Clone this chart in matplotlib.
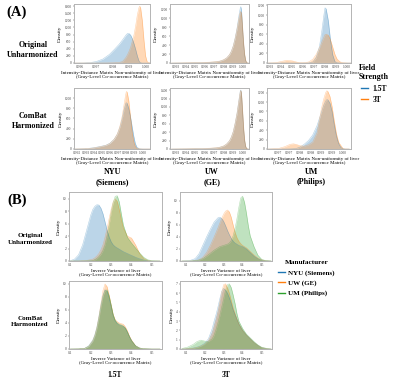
import matplotlib
matplotlib.use("Agg")
import matplotlib.pyplot as plt
from matplotlib.lines import Line2D

plt.rcParams['font.family'] = ['Liberation Serif', 'DejaVu Serif']

BLUE, ORANGE, GREEN = "tab:blue", "tab:orange", "tab:green"

# ---- panel A : Intensity-Distance Matrix Non-uniformity, 1.5T vs 3T ----
# NYU (Siemens), original
a_nyu_orig_x = [0.9956, 0.9962, 0.9966, 0.9970, 0.9974, 0.9978, 0.9981, 0.9984, 0.9986, 0.9988,
                0.9989, 0.9990, 0.9991, 0.9992, 0.9993, 0.9994, 0.9995, 0.9996, 0.99965, 0.9997,
                0.9998, 0.9999, 1.0000, 1.0001, 1.0003]
a_nyu_orig_15 = [0, 2, 10, 40, 110, 240, 380, 530, 650, 780, 830, 830, 780, 680, 540, 380, 200, 60, 25, 8,
                 0, 0, 0, 0, 0]
a_nyu_orig_3 = [0, 0, 0, 0, 0, 2, 5, 15, 40, 150, 230, 330, 450, 620, 800, 1050, 1350, 1560, 1600, 1550,
                1200, 650, 200, 30, 0]

# UW (GE), original
a_uw_orig_x = [0.9925, 0.9940, 0.9955, 0.9965, 0.9972, 0.9976, 0.9980, 0.9983, 0.9986, 0.9988, 0.9990,
               0.9992, 0.9994, 0.9995, 0.9996, 0.9997, 0.99975, 0.9998, 0.99985, 0.9999, 1.0000,
               1.0001, 1.0002, 1.0003, 1.0004, 1.0006]
a_uw_orig_15 = [0, 3, 8, 15, 25, 40, 70, 110, 180, 260, 380, 560, 780, 920, 1060, 1180, 1240, 1260, 1200,
                1080, 720, 400, 180, 60, 10, 0]
a_uw_orig_3 = [0, 4, 10, 18, 30, 45, 75, 115, 185, 265, 380, 550, 760, 880, 1000, 1100, 1140, 1150, 1120,
               1030, 720, 420, 200, 70, 15, 0]

# UM (Philips), original
a_um_orig_x = [0.9927, 0.9935, 0.9940, 0.9945, 0.9950, 0.9955, 0.9960, 0.9965, 0.9969, 0.9972, 0.9975,
               0.9977, 0.9979, 0.9980, 0.9981, 0.9983, 0.9985, 0.9987, 0.9989, 0.9991, 0.9994, 0.9997,
               1.0001, 1.0004]
a_um_orig_15 = [0, 0, 0, 0, 0, 0, 0, 2, 20, 110, 350, 650, 1000, 1150, 1130, 880, 470, 170, 30, 5, 0, 0, 0, 0]
a_um_orig_3 = [0, 5, 30, 55, 45, 15, 5, 20, 80, 180, 320, 430, 540, 590, 600, 580, 480, 330, 180, 80, 20, 5,
               0, 0]

# NYU (Siemens), ComBat
a_nyu_cb_x = [0.9916, 0.9930, 0.9940, 0.9948, 0.9955, 0.9960, 0.9965, 0.9969, 0.9972, 0.9975, 0.9977,
              0.9979, 0.9980, 0.9981, 0.9983, 0.9985, 0.9987, 0.9989, 0.9991, 0.9993, 0.9996, 1.0000,
              1.0009]
a_nyu_cb_15 = [0, 5, 25, 50, 75, 115, 190, 290, 420, 600, 760, 880, 910, 900, 800, 640, 450, 260, 110, 35, 5,
               0, 0]
a_nyu_cb_3 = [0, 5, 20, 45, 70, 110, 190, 300, 440, 650, 850, 1050, 1130, 1120, 950, 650, 350, 150, 50, 15,
              2, 0, 0]

# UW (GE), ComBat
a_uw_cb_x = a_uw_orig_x
a_uw_cb_15 = [0, 3, 8, 15, 25, 40, 70, 115, 190, 280, 410, 610, 850, 1010, 1170, 1320, 1390, 1400, 1340,
              1200, 820, 450, 200, 65, 12, 0]
a_uw_cb_3 = [0, 4, 10, 18, 30, 45, 75, 120, 195, 285, 415, 615, 850, 1000, 1150, 1300, 1370, 1390, 1340,
             1210, 840, 470, 210, 70, 14, 0]

# UM (Philips), ComBat
a_um_cb_x = [0.9965, 0.9970, 0.9973, 0.99755, 0.9977, 0.99785, 0.9980, 0.9982, 0.9984, 0.9986, 0.9988,
             0.9990, 0.9991, 0.9992, 0.99925, 0.9993, 0.9994, 0.9995, 0.9996, 0.9997, 0.9998, 0.9999,
             1.0000, 1.0001, 1.0003]
a_um_cb_15 = [0, 0, 0, 2, 5, 15, 40, 100, 180, 300, 500, 780, 920, 1020, 1050, 1050, 980, 800, 520, 280,
              120, 40, 8, 0, 0]
a_um_cb_3 = [0, 10, 50, 100, 110, 95, 70, 60, 90, 150, 350, 850, 1050, 1200, 1240, 1230, 1120, 900, 600,
             330, 150, 80, 15, 3, 0]

# ---- panel B : Inverse Variance, by manufacturer ----
b_15_orig_x = [0.10, 0.12, 0.14, 0.16, 0.18, 0.20, 0.21, 0.22, 0.23, 0.24, 0.25, 0.26, 0.27, 0.28, 0.29,
               0.30, 0.31, 0.32, 0.33, 0.34, 0.35, 0.36, 0.38, 0.40, 0.42, 0.44, 0.46, 0.48, 0.50, 0.54]
b_15_orig_nyu = [0.05, 0.3, 1.0, 2.6, 5.0, 7.4, 8.3, 8.8, 9.05, 9.0, 8.5, 7.6, 6.3, 5.0, 3.9, 3.1, 2.6, 2.3,
                 2.1, 1.9, 1.7, 1.5, 1.2, 0.9, 0.6, 0.35, 0.15, 0.05, 0, 0]
b_15_orig_uw = [0, 0, 0, 0.05, 0.1, 0.2, 0.3, 0.5, 0.8, 1.2, 1.8, 2.6, 3.8, 5.2, 6.8, 8.3, 9.5, 10.0, 9.6,
                8.3, 6.7, 5.3, 4.0, 3.7, 2.6, 1.2, 0.4, 0.1, 0, 0]
b_15_orig_um = [0, 0, 0, 0, 0.02, 0.05, 0.1, 0.2, 0.4, 0.7, 1.1, 1.7, 2.6, 4.0, 5.8, 7.8, 9.4, 10.4, 10.5,
                9.5, 7.6, 5.8, 3.8, 2.9, 2.1, 1.3, 0.6, 0.2, 0.05, 0]

b_3_orig_x = [0.08, 0.12, 0.15, 0.17, 0.19, 0.21, 0.23, 0.25, 0.27, 0.28, 0.29, 0.30, 0.31, 0.32, 0.33,
              0.34, 0.35, 0.36, 0.37, 0.38, 0.39, 0.40, 0.41, 0.42, 0.43, 0.44, 0.46, 0.48, 0.50, 0.52, 0.55]
b_3_orig_nyu = [0, 0.05, 0.4, 1.2, 2.6, 4.0, 5.3, 6.5, 7.2, 7.3, 7.1, 6.6, 5.9, 5.1, 4.4, 3.8, 3.3, 3.0,
                2.8, 2.6, 2.5, 2.4, 2.2, 2.0, 1.7, 1.4, 0.8, 0.4, 0.15, 0.05, 0]
b_3_orig_uw = [0, 0, 0.05, 0.2, 0.6, 1.4, 2.6, 4.0, 5.5, 6.3, 7.1, 7.8, 8.3, 8.5, 8.2, 7.3, 6.0, 4.8, 3.9,
               3.3, 2.9, 2.6, 2.4, 2.2, 1.9, 1.6, 1.0, 0.5, 0.2, 0.05, 0]
b_3_orig_um = [0, 0, 0.05, 0.15, 0.4, 0.8, 1.3, 1.8, 2.2, 2.4, 2.5, 2.6, 2.7, 2.8, 3.0, 3.4, 4.2, 5.4, 7.0,
               8.9, 10.5, 10.8, 9.8, 8.0, 5.9, 4.2, 2.4, 1.0, 0.3, 0.08, 0]

b_15_cb_x = [0.10, 0.14, 0.17, 0.19, 0.21, 0.22, 0.23, 0.24, 0.25, 0.26, 0.27, 0.28, 0.29, 0.30, 0.31,
             0.32, 0.33, 0.34, 0.35, 0.36, 0.37, 0.38, 0.39, 0.40, 0.42, 0.44, 0.46, 0.50, 0.54]
b_15_cb_nyu = [0, 0.02, 0.1, 0.5, 1.4, 2.2, 3.4, 5.0, 6.8, 8.3, 9.1, 8.9, 7.9, 6.5, 5.1, 4.3, 3.9, 3.7, 3.6,
               3.5, 3.2, 2.6, 1.9, 1.3, 0.5, 0.15, 0.05, 0, 0]
b_15_cb_uw = [0, 0.02, 0.1, 0.4, 1.3, 2.1, 3.3, 5.0, 7.0, 9.0, 10.0, 9.6, 8.3, 6.8, 5.3, 4.5, 4.2, 4.0, 3.9,
              3.8, 3.4, 2.8, 2.0, 1.4, 0.5, 0.15, 0.05, 0, 0]
b_15_cb_um = [0, 0.02, 0.1, 0.4, 1.2, 2.0, 3.1, 4.7, 6.5, 8.1, 9.0, 9.1, 8.2, 6.8, 5.3, 4.4, 4.0, 3.8, 3.7,
              3.5, 3.2, 2.6, 1.9, 1.3, 0.5, 0.15, 0.05, 0, 0]

b_3_cb_x = [0.08, 0.11, 0.14, 0.16, 0.18, 0.20, 0.22, 0.24, 0.25, 0.26, 0.27, 0.28, 0.29, 0.30, 0.31, 0.32,
            0.33, 0.34, 0.35, 0.36, 0.37, 0.38, 0.40, 0.42, 0.44, 0.46, 0.48, 0.50, 0.53, 0.55]
b_3_cb_nyu = [0, 0.02, 0.1, 0.2, 0.35, 0.6, 1.1, 2.2, 3.0, 3.7, 4.5, 5.4, 6.2, 6.5, 6.3, 6.0, 5.5, 4.9, 4.2,
              3.7, 3.2, 2.7, 2.0, 1.5, 1.1, 0.7, 0.4, 0.15, 0.03, 0]
b_3_cb_uw = [0, 0.02, 0.08, 0.15, 0.3, 0.5, 0.9, 1.7, 2.4, 3.1, 4.0, 5.0, 6.1, 6.9, 7.0, 6.6, 6.0, 5.2, 4.4,
             3.8, 3.2, 2.7, 2.0, 1.5, 1.1, 0.7, 0.4, 0.15, 0.03, 0]
b_3_cb_um = [0.05, 0.2, 0.5, 0.8, 0.95, 0.85, 0.8, 1.1, 1.5, 2.1, 2.8, 3.6, 4.5, 5.4, 6.3, 6.9, 7.0, 6.6,
             5.8, 4.9, 3.8, 3.0, 2.2, 1.6, 1.2, 0.8, 0.45, 0.2, 0.05, 0]

a_xlabel = "Intensity-Distance Matrix Non-uniformity of liver\n(Gray-Level Co-occurrence Matrix)"
b_xlabel = "Inverse Variance of liver\n(Gray-Level Co-occurrence Matrix)"
a_ticks_8 = [0.993, 0.994, 0.995, 0.996, 0.997, 0.998, 0.999, 1.000]
b_ticks = [0.1, 0.2, 0.3, 0.4, 0.5]
b_labels = ["0.1", "0.2", "0.3", "0.4", "0.5"]

W, H = 400, 382
fig = plt.figure(figsize=(4, 3.82), dpi=100)


def px_axes(l, t, r, b):
    return fig.add_axes([l / W, 1 - b / H, (r - l) / W, (b - t) / H])


def kde_panel(ax, x, curves, xlim, ylim, xticks, yticks, xlabel, xticklabels=None):
    for y, c in curves:
        ax.fill_between(x, y, color=c, alpha=0.3, lw=0)
        ax.plot(x, y, color=c, alpha=0.35, lw=0.4)
    ax.set_xlim(*xlim)
    ax.set_ylim(*ylim)
    ax.set_xticks(xticks)
    if xticklabels is None:
        xticklabels = ["%.3f" % t for t in xticks]
    ax.set_xticklabels(xticklabels)
    ax.set_yticks(yticks)
    ax.tick_params(labelsize=2.6, length=1, width=0.3, pad=0.8, colors="#444444")
    ax.set_xlabel(xlabel, fontsize=3.6, labelpad=1, linespacing=1.2)
    ax.set_ylabel("Density", fontsize=3.8, labelpad=1.5)
    for s in ax.spines.values():
        s.set_color("#b4b4b4")
        s.set_linewidth(0.7)


# panel A
ax = px_axes(74, 4, 150, 63)
kde_panel(ax, a_nyu_orig_x, [(a_nyu_orig_15, BLUE), (a_nyu_orig_3, ORANGE)], (0.99565, 1.00027), (0, 1660),
          [0.996, 0.997, 0.998, 0.999, 1.000], range(0, 1601, 200), a_xlabel)
ax = px_axes(170, 4, 249, 63)
kde_panel(ax, a_uw_orig_x, [(a_uw_orig_15, BLUE), (a_uw_orig_3, ORANGE)], (0.99234, 1.00066), (0, 1320),
          a_ticks_8, range(0, 1201, 200), a_xlabel)
ax = px_axes(267, 4, 351, 63)
kde_panel(ax, a_um_orig_x, [(a_um_orig_15, BLUE), (a_um_orig_3, ORANGE)], (0.99273, 1.00036), (0, 1230),
          a_ticks_8, range(0, 1201, 200), a_xlabel)
ax = px_axes(74, 88, 150, 149)
kde_panel(ax, a_nyu_cb_x, [(a_nyu_cb_15, BLUE), (a_nyu_cb_3, ORANGE)], (0.99159, 1.0009), (0, 1200),
          [0.992] + a_ticks_8, range(0, 1001, 200), a_xlabel)
ax = px_axes(170, 88, 249, 149)
kde_panel(ax, a_uw_cb_x, [(a_uw_cb_15, BLUE), (a_uw_cb_3, ORANGE)], (0.99234, 1.00066), (0, 1450),
          a_ticks_8, range(0, 1401, 200), a_xlabel)
ax = px_axes(267, 88, 351, 149)
kde_panel(ax, a_um_cb_x, [(a_um_cb_15, BLUE), (a_um_cb_3, ORANGE)], (0.99647, 1.00038), (0, 1300),
          [0.9970, 0.9975, 0.9980, 0.9985, 0.9990, 0.9995, 1.0000], range(0, 1201, 200), a_xlabel,
          xticklabels=["0.997", "0.997", "0.998", "0.998", "0.999", "0.999", "1.000"])

# panel B
ax = px_axes(69, 192, 162, 261)
kde_panel(ax, b_15_orig_x, [(b_15_orig_nyu, BLUE), (b_15_orig_uw, ORANGE), (b_15_orig_um, GREEN)],
          (0.093, 0.55), (0, 11.1), b_ticks, range(0, 11, 2), b_xlabel, b_labels)
ax = px_axes(180, 192, 272, 261)
kde_panel(ax, b_3_orig_x, [(b_3_orig_nyu, BLUE), (b_3_orig_uw, ORANGE), (b_3_orig_um, GREEN)],
          (0.07, 0.555), (0, 11.5), b_ticks, range(0, 11, 2), b_xlabel, b_labels)
ax = px_axes(69, 281, 162, 349)
kde_panel(ax, b_15_cb_x, [(b_15_cb_nyu, BLUE), (b_15_cb_uw, ORANGE), (b_15_cb_um, GREEN)],
          (0.093, 0.55), (0, 10.46), b_ticks, range(0, 11, 2), b_xlabel, b_labels)
ax = px_axes(180, 281, 272, 349)
kde_panel(ax, b_3_cb_x, [(b_3_cb_nyu, BLUE), (b_3_cb_uw, ORANGE), (b_3_cb_um, GREEN)],
          (0.07, 0.555), (0, 7.3), b_ticks, range(0, 8), b_xlabel, b_labels)


def ftext(x, y, s, size, **kw):
    fig.text(x / W, 1 - y / H, s, fontsize=size, fontweight="bold", ha="center", va="center",
             linespacing=1.25, **kw)


ftext(17, 12, "(A)", 10.5)
ftext(17, 200, "(B)", 10.5)
ftext(33, 50, "Original\nUnharmonized", 5.8)
ftext(33, 121, "ComBat\nHarmonized", 5.8)
ftext(30, 239, "Original\nUnharmonized", 5)
ftext(30, 322, "ComBat\nHarmonized", 5)
ftext(112, 177, "NYU\n(Siemens)", 5.8)
ftext(212, 177, "UW\n(GE)", 5.8)
ftext(311, 177, "UM\n(Philips)", 5.8)
ftext(115, 375, "1.5T", 5.5)
ftext(226, 375, "3T", 5.5)

# legends
h_field = [Line2D([], [], color=BLUE, lw=1), Line2D([], [], color=ORANGE, lw=1)]
fig.legend(h_field, ["1.5T", "3T"], title="Field\nStrength", loc="upper left",
           bbox_to_anchor=(352 / W, 1 - 57 / H), frameon=False, handlelength=0.9,
           handletextpad=0.6, labelspacing=0.45, prop={"size": 5.5, "weight": "bold"},
           title_fontproperties={"size": 5.8, "weight": "bold"})
h_man = [Line2D([], [], color=BLUE, lw=1), Line2D([], [], color=ORANGE, lw=1),
         Line2D([], [], color=GREEN, lw=1)]
fig.legend(h_man, ["NYU (Siemens)", "UW (GE)", "UM (Philips)"], title="Manufacturer", loc="upper left",
           bbox_to_anchor=(272 / W, 1 - 254 / H), frameon=False, handlelength=0.9, handletextpad=0.5,
           labelspacing=0.6, prop={"size": 5, "weight": "bold"},
           title_fontproperties={"size": 5.2, "weight": "bold"})

fig.savefig("out.png", dpi=100)
